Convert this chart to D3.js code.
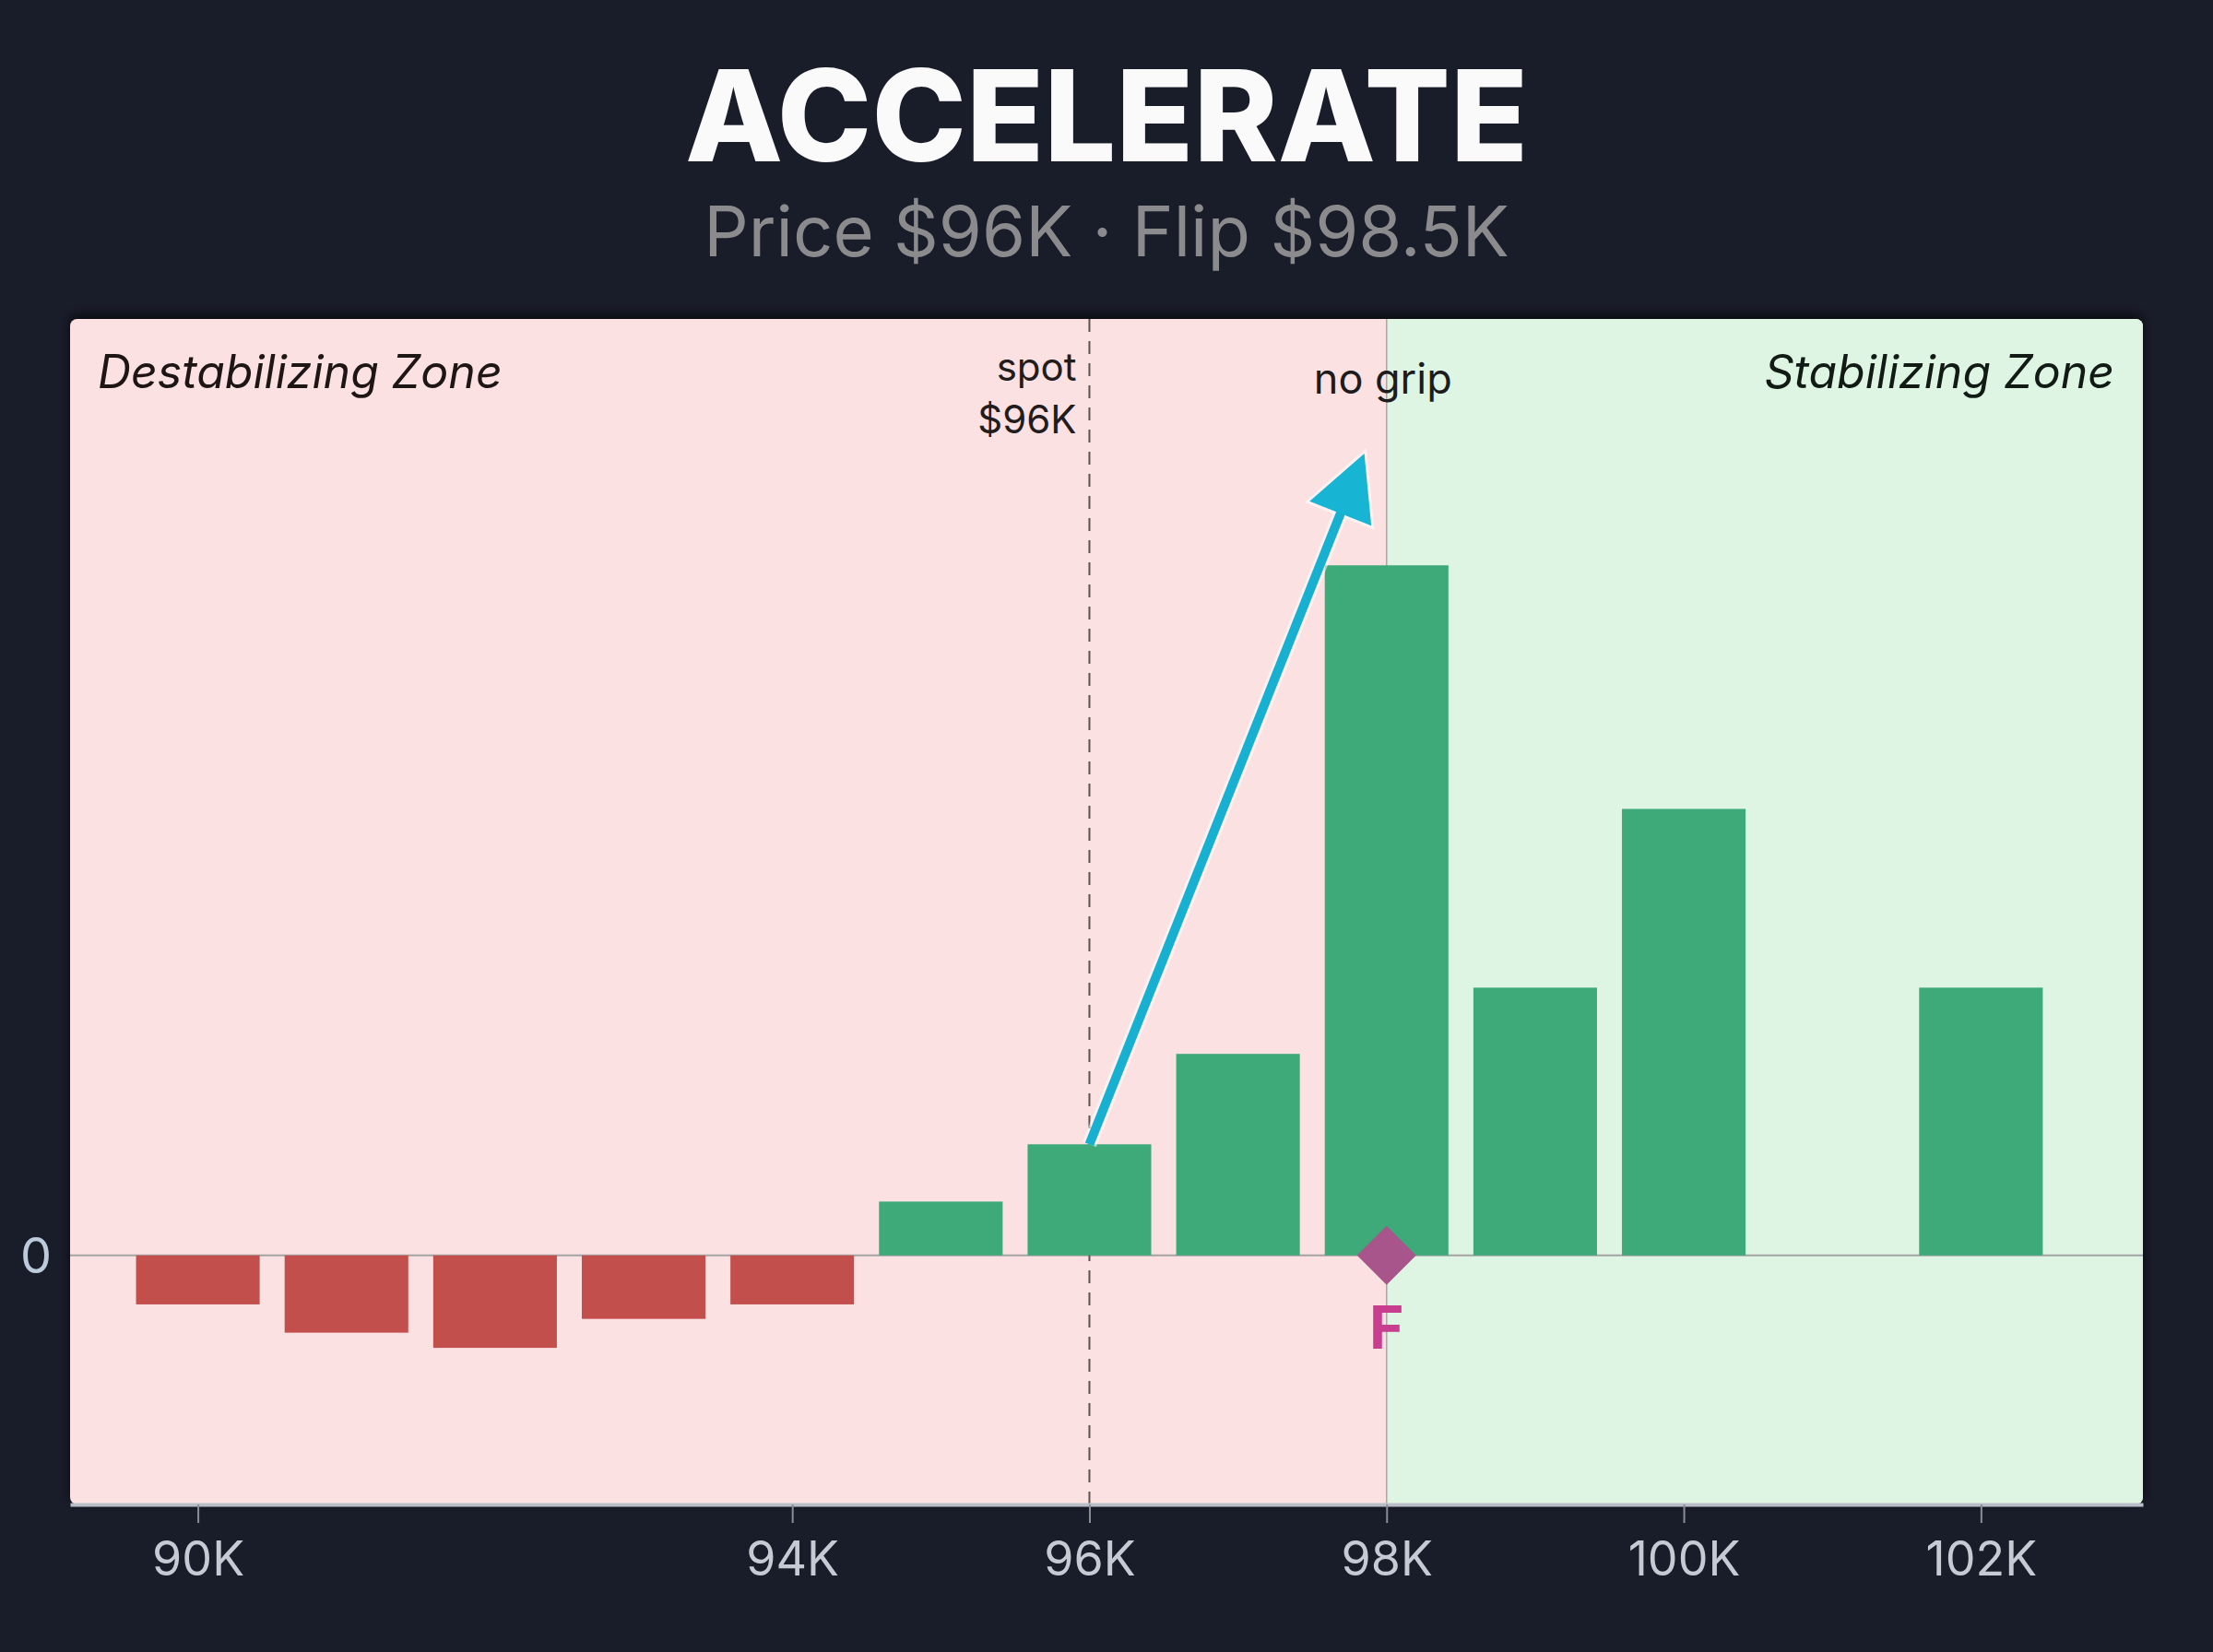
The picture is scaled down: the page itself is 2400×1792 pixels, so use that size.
<!DOCTYPE html>
<html>
  <head>
    <meta charset="utf-8">
    <title>Accelerate</title>
    <style media="screen">
      body {margin:0; background:#191c29}
      text {font-family: Inter, "Noto Sans", sans-serif}
    </style>
  </head>
  <body>
    <script src="https://cdn.jsdelivr.net/npm/d3@7"></script>
    <script type="text/javascript">

    // strikes in $K and net exposure per strike (98K bar = 100)
    const strikes = [90, 91, 92, 93, 94, 95, 96, 97, 98, 99, 100, 101, 102]
    const exposure = [-7.1, -11.2, -13.4, -9.2, -7.1, 7.8, 16.1, 29.2, 100, 38.8, 64.7, 0, 38.8]
    const tickValues = [90, 94, 96, 98, 100, 102]
    const spotLevel = 96
    const flipLevel = 98
    // arrow annotation from the spot bar up past the flip
    const arrowX = [96, 97.85]
    const arrowY = [16.1, 116.2]

    const title = 'ACCELERATE'
    const subtitle = 'Price $96K \u00b7 Flip $98.5K'

    const W = 2400, H = 1792
    const L = 76, R = 2324, T = 346, B = 1632

    const svg = d3.select('body').append('svg')
      .attr('width', W)
      .attr('height', H)

    const x = d3.scaleLinear().domain([89.14, 103.09]).range([L, R])
    const y = d3.scaleLinear().domain([-36.1, 135.7]).range([B, T])

    const defs = svg.append('defs')
    defs.append('clipPath').attr('id', 'panel')
      .append('rect').attr('x', L).attr('y', T).attr('width', R - L).attr('height', B - T).attr('rx', 8)
    const sh = defs.append('filter').attr('id', 'shadow').attr('x', -0.05).attr('y', -0.05).attr('width', 1.1).attr('height', 1.1)
    sh.append('feDropShadow').attr('dx', 0).attr('dy', -4).attr('stdDeviation', 6)
      .attr('flood-color', '#000').attr('flood-opacity', 0.7)

    // title
    svg.append('text')
      .attr('x', W / 2).attr('y', 175)
      .attr('text-anchor', 'middle')
      .attr('font-size', 138).attr('font-weight', 800)
      .attr('fill', '#fafafa')
      .text(title)

    svg.append('text')
      .attr('x', W / 2).attr('y', 278)
      .attr('text-anchor', 'middle')
      .attr('font-size', 76)
      .attr('fill', '#8b8b8d')
      .text(subtitle)

    // panel + zones
    svg.append('rect')
      .attr('x', L).attr('y', T).attr('width', R - L).attr('height', B - T).attr('rx', 8)
      .attr('fill', '#fbe1e2')
      .attr('filter', 'url(#shadow)')

    const plot = svg.append('g').attr('clip-path', 'url(#panel)')

    plot.append('rect')
      .attr('x', x(flipLevel)).attr('y', T)
      .attr('width', R - x(flipLevel)).attr('height', B - T)
      .attr('fill', '#dff5e3')

    plot.append('line')
      .attr('x1', x(flipLevel)).attr('x2', x(flipLevel))
      .attr('y1', T).attr('y2', B)
      .attr('stroke', '#aaa6a6').attr('stroke-width', 1.5)

    // zero line
    plot.append('line')
      .attr('x1', L).attr('x2', R)
      .attr('y1', y(0)).attr('y2', y(0))
      .attr('stroke', '#a3a3a3').attr('stroke-width', 2)

    // spot line
    plot.append('line')
      .attr('x1', x(spotLevel)).attr('x2', x(spotLevel))
      .attr('y1', T).attr('y2', B)
      .attr('stroke', '#5a5252').attr('stroke-width', 2)
      .attr('stroke-dasharray', '14,10')

    // bars
    const bw = x(0.832) - x(0)
    const data = strikes.map((s, i) => ({s, v: exposure[i]}))
    plot.selectAll('rect.bar')
      .data(data.filter(d => d.v !== 0))
      .join('rect')
      .attr('class', 'bar')
      .attr('x', d => x(d.s) - bw / 2)
      .attr('width', bw)
      .attr('y', d => y(Math.max(0, d.v)))
      .attr('height', d => Math.abs(y(d.v) - y(0)))
      .attr('fill', d => d.v < 0 ? '#c24f4c' : '#3ea979')

    // arrow
    const x0 = x(arrowX[0]), y0 = y(arrowY[0])
    const x1 = x(arrowX[1]), y1 = y(arrowY[1])
    const len = Math.hypot(x1 - x0, y1 - y0)
    const ux = (x1 - x0) / len, uy = (y1 - y0) / len
    const headL = 70, headW = 36
    const bx = x1 - ux * headL, by = y1 - uy * headL
    const line = d3.line()
    const head = [[x1, y1], [bx - uy * headW, by + ux * headW], [bx + uy * headW, by - ux * headW]]

    plot.append('path')
      .attr('d', line([[x0, y0], [bx + ux * 4, by + uy * 4]]))
      .attr('stroke', '#ffffff').attr('stroke-opacity', 0.55).attr('stroke-width', 16).attr('fill', 'none')
    plot.append('path')
      .attr('d', line(head) + 'Z')
      .attr('fill', '#ffffff').attr('fill-opacity', 0.55)
      .attr('stroke', '#ffffff').attr('stroke-opacity', 0.55).attr('stroke-width', 6)
    plot.append('path')
      .attr('d', line([[x0, y0], [bx + ux * 4, by + uy * 4]]))
      .attr('stroke', '#17b0d0').attr('stroke-width', 10).attr('fill', 'none')
    plot.append('path')
      .attr('d', line(head) + 'Z')
      .attr('fill', '#17b4d3')

    // flip marker
    const d = 32
    plot.append('path')
      .attr('d', line([[x(flipLevel), y(0) - d], [x(flipLevel) + d, y(0)], [x(flipLevel), y(0) + d], [x(flipLevel) - d, y(0)]]) + 'Z')
      .attr('fill', '#a8558b')

    plot.append('text')
      .attr('x', x(flipLevel)).attr('y', 1463)
      .attr('text-anchor', 'middle')
      .attr('font-size', 64).attr('font-weight', 700)
      .attr('fill', '#c93d8f')
      .text('F')

    // annotations
    plot.append('text')
      .attr('x', 106).attr('y', 421)
      .attr('font-size', 50).attr('font-style', 'italic')
      .attr('fill', '#1e1515')
      .text('Destabilizing Zone')

    plot.append('text')
      .attr('x', 2293).attr('y', 421)
      .attr('text-anchor', 'end')
      .attr('font-size', 50).attr('font-style', 'italic')
      .attr('fill', '#111a14')
      .text('Stabilizing Zone')

    const spotLab = plot.append('text')
      .attr('text-anchor', 'end')
      .attr('font-size', 42)
      .attr('fill', '#221c1c')
    spotLab.append('tspan').attr('x', x(spotLevel) - 14).attr('y', 413).text('spot')
    spotLab.append('tspan').attr('x', x(spotLevel) - 14).attr('y', 470).text('$' + spotLevel + 'K')

    plot.append('text')
      .attr('x', x(flipLevel) - 4).attr('y', 427)
      .attr('text-anchor', 'middle')
      .attr('font-size', 45)
      .attr('fill', '#1c1c1c')
      .text('no grip')

    // x axis
    const ax = svg.append('g')
      .attr('transform', `translate(0,${B})`)
      .call(d3.axisBottom(x).tickValues(tickValues).tickFormat(v => v + 'K').tickSizeOuter(0).tickSizeInner(20).tickPadding(20))
    ax.select('.domain').attr('stroke', '#b9bdc6').attr('stroke-width', 4)
    ax.selectAll('.tick line').attr('stroke', '#8a8e98').attr('stroke-width', 2)
    ax.selectAll('.tick text')
      .attr('font-size', 52)
      .attr('font-family', 'Inter, sans-serif')
      .attr('fill', '#c6cad3')

    // y zero label
    svg.append('text')
      .attr('x', 39).attr('y', y(0))
      .attr('dy', '0.36em')
      .attr('text-anchor', 'middle')
      .attr('font-size', 54)
      .attr('fill', '#bccbdb')
      .text('0')
    </script>
  </body>
</html>
